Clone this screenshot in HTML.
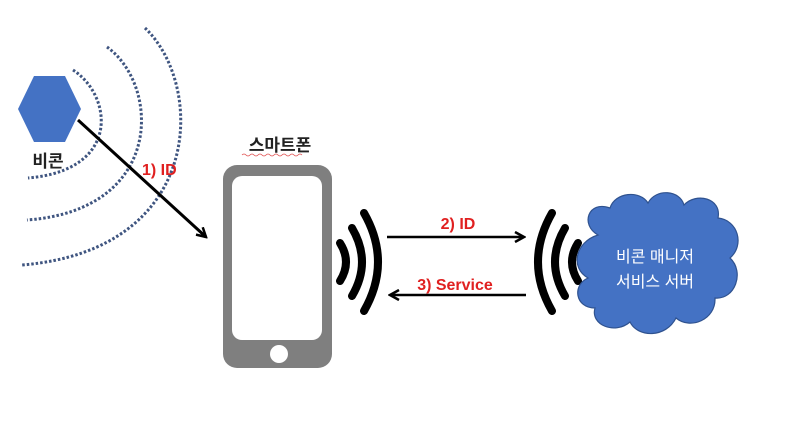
<!DOCTYPE html>
<html><head><meta charset="utf-8"><style>
html,body{margin:0;padding:0;background:#fff}
svg{display:block}
text{font-family:"Liberation Sans","Noto Sans CJK KR",sans-serif}
</style></head><body>
<svg width="800" height="432" viewBox="0 0 800 432" xmlns="http://www.w3.org/2000/svg">
<defs>
<marker id="ah" markerWidth="12" markerHeight="12" refX="10" refY="6" orient="auto" markerUnits="userSpaceOnUse">
<path d="M1,1 L10,6 L1,11" fill="none" stroke="#000" stroke-width="2.5"/>
</marker>
</defs>
<g fill="none" stroke="#3f5580" stroke-width="3" stroke-dasharray="2.5 2">
<path d="M73,70 C112,95 122,170 28,178"/>
<path d="M107,47 C160,85 165,210 27,220"/>
<path d="M145,28 C205,85 205,250 22,265"/>
</g>
<polygon points="18,109 34,76 65,76 81,109 65,142 34,142" fill="#4472c4"/>
<text x="48" y="167" font-size="17" font-weight="bold" text-anchor="middle" fill="#222">비콘</text>
<line x1="78" y1="120" x2="206" y2="237" stroke="#000" stroke-width="3" marker-end="url(#ah)"/>
<text x="142" y="175" font-size="16" font-weight="bold" fill="#e02020">1) ID</text>
<text x="280" y="151" font-size="17" font-weight="bold" text-anchor="middle" fill="#222">스마트폰</text>
<path d="M242,155 q2,-2 4,0 t4,0 t4,0 t4,0 t4,0 t4,0 t4,0 t4,0 t4,0 t4,0 t4,0 t4,0 t4,0 t4,0 t4,0" fill="none" stroke="#e05050" stroke-width="0.8"/>
<rect x="223" y="165" width="109" height="203" rx="14" fill="#7f7f7f"/>
<rect x="232" y="176" width="90" height="164" rx="10" fill="#fff"/>
<circle cx="279" cy="354" r="9" fill="#fff"/>
<g fill="none" stroke="#000" stroke-width="8" stroke-linecap="round">
<path d="M340,243 Q352,262 340,281"/>
<path d="M352,228 Q372,262 352,296"/>
<path d="M364,213 Q392,262 364,311"/>
<path d="M578,243 Q566,262 578,281"/>
<path d="M565,228 Q545,262 565,296"/>
<path d="M552,213 Q524,262 552,311"/>
</g>
<line x1="387" y1="237" x2="524" y2="237" stroke="#000" stroke-width="2.5" marker-end="url(#ah)"/>
<line x1="526" y1="295" x2="390" y2="295" stroke="#000" stroke-width="2.5" marker-end="url(#ah)"/>
<text x="458" y="229" font-size="16" font-weight="bold" text-anchor="middle" fill="#e02020">2) ID</text>
<text x="455" y="290" font-size="16" font-weight="bold" text-anchor="middle" fill="#e02020">3) Service</text>
<g fill="#4472c4" stroke="#2f528f" stroke-width="1.2">
<path d="M598,235 C580,225 588,200 610,208 C615,192 640,190 648,203 C656,188 680,190 684,205 C696,192 722,198 718,218 C738,220 745,245 730,258 C745,272 735,300 715,298 C716,320 690,330 676,318 C666,338 638,338 630,322 C615,335 590,325 595,308 C575,308 572,285 588,278 C570,268 575,242 598,235 Z"/>
</g>
<text x="655" y="262" font-size="16" text-anchor="middle" fill="#fff">비콘 매니저</text>
<text x="655" y="287" font-size="16" text-anchor="middle" fill="#fff">서비스 서버</text>
</svg>
</body></html>
